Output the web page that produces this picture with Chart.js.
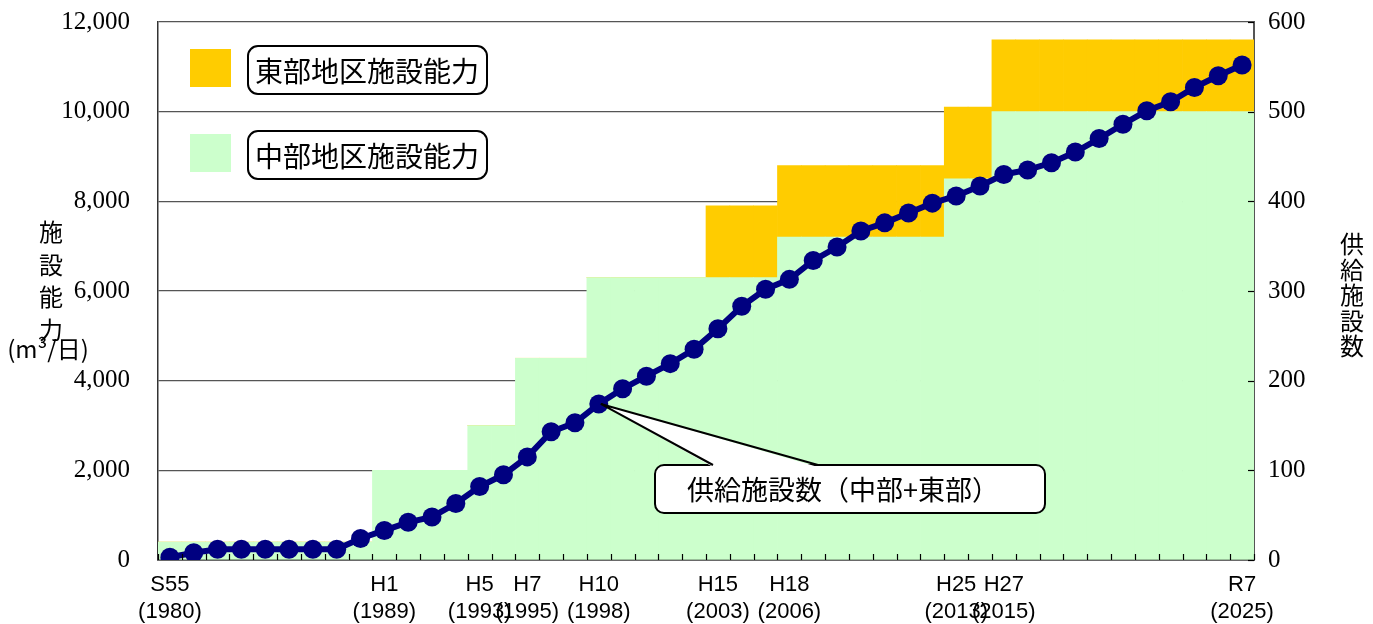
<!DOCTYPE html>
<html>
<head>
<meta charset="utf-8">
<script src="https://cdn.jsdelivr.net/npm/chart.js@4/dist/chart.umd.min.js"></script>
<style>
body { margin: 0; background: #fff; }
#wrap { width: 1373px; height: 624px; position: relative; }
</style>
</head>
<body>
<div id="wrap"><canvas id="capacity-canvas"></canvas></div>
<script>
var years = [
    1980, 1981, 1982, 1983, 1984, 1985, 1986, 1987, 1988, 1989,
    1990, 1991, 1992, 1993, 1994, 1995, 1996, 1997, 1998, 1999,
    2000, 2001, 2002, 2003, 2004, 2005, 2006, 2007, 2008, 2009,
    2010, 2011, 2012, 2013, 2014, 2015, 2016, 2017, 2018, 2019,
    2020, 2021, 2022, 2023, 2024, 2025
];
// 中部地区施設能力 (m3/日)
var centralCapacity = [
    400, 400, 400, 400, 400, 400, 400, 400, 400, 2000,
    2000, 2000, 2000, 3000, 3000, 4500, 4500, 4500, 6300, 6300,
    6300, 6300, 6300, 6300, 6300, 6300, 7200, 7200, 7200, 7200,
    7200, 7200, 7200, 8500, 8500, 10000, 10000, 10000, 10000, 10000,
    10000, 10000, 10000, 10000, 10000, 10000
];
// 東部地区施設能力 (m3/日)
var eastCapacity = [
    0, 0, 0, 0, 0, 0, 0, 0, 0, 0,
    0, 0, 0, 0, 0, 0, 0, 0, 0, 0,
    0, 0, 0, 1600, 1600, 1600, 1600, 1600, 1600, 1600,
    1600, 1600, 1600, 1600, 1600, 1600, 1600, 1600, 1600, 1600,
    1600, 1600, 1600, 1600, 1600, 1600
];
// 供給施設数（中部+東部）
var facilityCount = [
    3, 8, 12, 12, 12, 12, 12, 12, 24, 33,
    42, 48, 63, 82, 95, 115, 143, 153, 174, 191,
    205, 219, 235, 258, 283, 302, 313, 334, 349, 367,
    376, 387, 398, 406, 417, 430, 435, 443, 455, 470,
    486, 501, 511, 527, 540, 552
];
var tickYears = [1980, 1989, 1993, 1995, 1998, 2003, 2006, 2013, 2015, 2025];
var tickEras = ["S55", "H1", "H5", "H7", "H10", "H15", "H18", "H25", "H27", "R7"];

var cjkFont = "'Noto Sans CJK JP', 'Noto Sans', sans-serif";

var overlayPlugin = {
    id: "overlay",
    afterDraw: function (chart) {
        var ctx = chart.ctx;
        var area = chart.chartArea;
        var x = chart.scales.x;
        var yRight = chart.scales.y2;
        ctx.save();

        // inward tick marks on the bottom axis
        ctx.strokeStyle = "#000";
        ctx.lineWidth = 1.2;
        var band = x.width / years.length;
        for (var i = 0; i <= years.length; i++) {
            var tx = Math.round(x.left + i * band) + 0.5;
            ctx.beginPath();
            ctx.moveTo(tx, area.bottom);
            ctx.lineTo(tx, area.bottom - 6);
            ctx.stroke();
        }
        // inward tick marks on the right axis
        yRight.ticks.forEach(function (t) {
            var ty = Math.round(yRight.getPixelForValue(t.value)) + 0.5;
            ctx.beginPath();
            ctx.moveTo(area.right, ty);
            ctx.lineTo(area.right - 6, ty);
            ctx.stroke();
        });

        // legend
        var legend = [
            { color: "#FFCC00", text: "東部地区施設能力", top: 46 },
            { color: "#CCFFCC", text: "中部地区施設能力", top: 131 }
        ];
        legend.forEach(function (item) {
            ctx.fillStyle = item.color;
            ctx.fillRect(190, item.top + 3, 41, 38);
            ctx.beginPath();
            ctx.roundRect(248, item.top, 239, 48, 10);
            ctx.fillStyle = "#fff";
            ctx.fill();
            ctx.lineWidth = 2;
            ctx.strokeStyle = "#000";
            ctx.stroke();
            ctx.fillStyle = "#000";
            ctx.font = "28px " + cjkFont;
            ctx.textBaseline = "middle";
            ctx.textAlign = "left";
            ctx.fillText(item.text, 255, item.top + 25);
        });

        // callout for the facility line
        var meta = chart.getDatasetMeta(2);
        var tip = meta.data[years.indexOf(1998)];
        ctx.beginPath();
        ctx.roundRect(655, 465, 390, 48, 9);
        ctx.fillStyle = "#fff";
        ctx.fill();
        ctx.lineWidth = 2;
        ctx.strokeStyle = "#000";
        ctx.stroke();
        ctx.beginPath();
        ctx.moveTo(tip.x + 2, tip.y);
        ctx.lineTo(713, 467);
        ctx.lineTo(818, 467);
        ctx.closePath();
        ctx.fill();
        ctx.beginPath();
        ctx.moveTo(tip.x + 2, tip.y);
        ctx.lineTo(713, 465);
        ctx.moveTo(tip.x + 2, tip.y);
        ctx.lineTo(818, 465);
        ctx.stroke();
        ctx.fillStyle = "#000";
        ctx.font = "27px " + cjkFont;
        ctx.textBaseline = "middle";
        ctx.textAlign = "left";
        ctx.fillText("供給施設数（中部+東部）", 687, 490);

        // axis titles
        ctx.font = "24px " + cjkFont;
        ctx.textAlign = "center";
        ["施", "設", "能", "力"].forEach(function (c, k) {
            ctx.fillText(c, 51, 232 + k * 32.5);
        });
        ctx.fillText("(m³/日)", 48, 349);
        ["供", "給", "施", "設", "数"].forEach(function (c, k) {
            ctx.fillText(c, 1352, 244 + k * 25.5);
        });
        ctx.restore();
    }
};

function fitVertical(width) {
    return function (scale) {
        scale.width = width;
        scale.paddingTop = 0;
        scale.paddingBottom = 0;
    };
}

var capacityElement = document.getElementById("capacity-canvas");
var capacityChart = new Chart(capacityElement, {
    type: "bar",
    data: {
        labels: years,
        datasets: [{
            type: "bar",
            label: "中部地区施設能力",
            data: centralCapacity,
            backgroundColor: "#CCFFCC",
            barPercentage: 1,
            categoryPercentage: 1,
            yAxisID: "y",
            order: 1
        },
        {
            type: "bar",
            label: "東部地区施設能力",
            data: eastCapacity,
            backgroundColor: "#FFCC00",
            barPercentage: 1,
            categoryPercentage: 1,
            yAxisID: "y",
            order: 2
        },
        {
            type: "line",
            label: "供給施設数（中部+東部）",
            data: facilityCount,
            borderColor: "#000080",
            borderWidth: 6,
            pointRadius: 9.5,
            pointBackgroundColor: "#000080",
            pointBorderWidth: 0,
            tension: 0,
            yAxisID: "y2",
            order: 0
        }]
    },
    options: {
        responsive: true,
        maintainAspectRatio: false,
        animation: false,
        layout: { padding: { top: 22 } },
        plugins: {
            legend: { display: false },
            tooltip: { enabled: false }
        },
        scales: {
            x: {
                stacked: true,
                offset: true,
                grid: { display: false },
                border: { display: true, color: "#000", width: 1.5 },
                afterFit: function (scale) { scale.height = 64; },
                ticks: {
                    autoSkip: false,
                    maxRotation: 0,
                    padding: 4,
                    color: "#000",
                    font: { family: "'Liberation Sans', 'Noto Sans', sans-serif", size: 22, lineHeight: 1.22 },
                    callback: function (value, index) {
                        var k = tickYears.indexOf(years[index]);
                        if (k < 0) return "";
                        return [tickEras[k], "(" + tickYears[k] + ")"];
                    }
                }
            },
            y: {
                stacked: true,
                position: "left",
                min: 0,
                max: 12000,
                ticks: {
                    stepSize: 2000,
                    padding: 28,
                    color: "#000",
                    font: { family: "'Liberation Serif', serif", size: 25 },
                    callback: function (v) { return v.toLocaleString("en-US"); }
                },
                grid: { color: "#555", lineWidth: 1.3, drawTicks: false },
                border: { color: "#333", width: 1.5 },
                afterFit: fitVertical(158)
            },
            y2: {
                position: "right",
                min: 0,
                max: 600,
                ticks: {
                    stepSize: 100,
                    padding: 14,
                    color: "#000",
                    font: { family: "'Liberation Serif', serif", size: 25 }
                },
                grid: { display: false, drawTicks: false },
                border: { color: "#555", width: 2 },
                afterFit: fitVertical(119)
            }
        }
    },
    plugins: [overlayPlugin]
});
</script>
</body>
</html>
